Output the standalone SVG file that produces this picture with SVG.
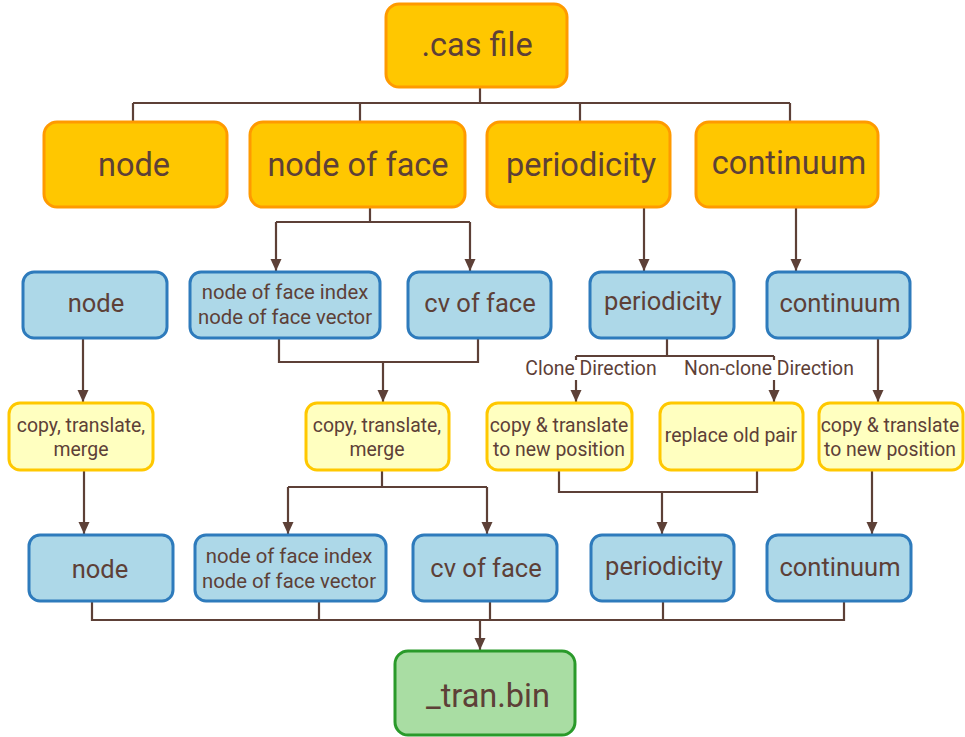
<svg xmlns="http://www.w3.org/2000/svg" width="965" height="737" viewBox="0 0 965 737">
<style>
.o{fill:#FFC700;stroke:#FF9A00;stroke-width:3}
.b{fill:#ADD8E8;stroke:#2E7BBC;stroke-width:3}
.y{fill:#FFFFC0;stroke:#FFC800;stroke-width:3}
.g{fill:#A9DDA3;stroke:#2A9A2A;stroke-width:3}
text{font-family:Roboto,"Liberation Sans",sans-serif;fill:#5D4037;text-anchor:middle}
.t1{font-size:32.5px}
.t2{font-size:25.5px}
.t3{font-size:20.3px}
.t4{font-size:19.4px}
.c path{fill:none;stroke:#5D4037;stroke-width:2.2}
</style>
<defs>
<marker id="ar" markerUnits="userSpaceOnUse" markerWidth="14" markerHeight="14" viewBox="0 0 14 14" refX="12" refY="7" orient="auto">
<path d="M0,1.5 L12,7 L0,12.5 Z" fill="#5D4037"/>
</marker>
</defs>
<g class="c" id="connectors">
<path d="M480,87 V103 M133,103 H790 M133,103 V121 M360,103 V121 M580,103 V121 M790,103 V121"/>
<path d="M370,208 V222 M276,222 H470"/>
<path d="M276,222 V271" marker-end="url(#ar)"/>
<path d="M470,222 V271" marker-end="url(#ar)"/>
<path d="M644,208 V271" marker-end="url(#ar)"/>
<path d="M796,208 V271" marker-end="url(#ar)"/>
<path d="M83,339 V402" marker-end="url(#ar)"/>
<path d="M279,339 V362 H478 V339 M383,362 V402" marker-end="url(#ar)"/>
<path d="M667,339 V356 M576,356 H774"/>
<path d="M576,356 V402" marker-end="url(#ar)"/>
<path d="M774,356 V402" marker-end="url(#ar)"/>
<path d="M878,339 V402" marker-end="url(#ar)"/>
<path d="M84,471 V534" marker-end="url(#ar)"/>
<path d="M382,471 V487 M288,487 H487"/>
<path d="M288,487 V534" marker-end="url(#ar)"/>
<path d="M487,487 V534" marker-end="url(#ar)"/>
<path d="M559,471 V492 H757 V471 M662,492 V534" marker-end="url(#ar)"/>
<path d="M872,471 V534" marker-end="url(#ar)"/>
<path d="M92,602 V620 H844 V602 M319,602 V620 M490,602 V620 M663,602 V620"/>
<path d="M480,620 V650" marker-end="url(#ar)"/>
</g>
<g id="label-clone">
<rect x="523" y="360" width="136" height="20" fill="#fff"/>
<text class="t4" x="591" y="375">Clone Direction</text>
</g>
<g id="label-nonclone">
<rect x="682" y="360" width="175" height="20" fill="#fff"/>
<text class="t4" x="769" y="375">Non-clone Direction</text>
</g>
<g id="cas"><rect class="o" x="386" y="4" width="181" height="83" rx="13"/><text class="t1" x="477" y="56">.cas file</text></g>
<g id="node1"><rect class="o" x="44" y="122" width="183" height="85" rx="13"/><text class="t1" x="134" y="176">node</text></g>
<g id="nof1"><rect class="o" x="250" y="122" width="215" height="85" rx="13"/><text class="t1" x="358" y="176">node of face</text></g>
<g id="per1"><rect class="o" x="487" y="122" width="183" height="85" rx="13"/><text class="t1" x="581" y="176">periodicity</text></g>
<g id="con1"><rect class="o" x="696" y="122" width="182" height="85" rx="13"/><text class="t1" x="789" y="174">continuum</text></g>
<g id="node2"><rect class="b" x="23" y="272" width="144" height="66" rx="11"/><text class="t2" x="96" y="312">node</text></g>
<g id="nof2"><rect class="b" x="190" y="272" width="190" height="66" rx="11"/><text class="t3" x="285" y="299">node of face index</text><text class="t3" x="285" y="324">node of face vector</text></g>
<g id="cv2"><rect class="b" x="408" y="272" width="143" height="66" rx="11"/><text class="t2" x="480" y="312">cv of face</text></g>
<g id="per2"><rect class="b" x="590" y="272" width="144" height="66" rx="11"/><text class="t2" x="663" y="310">periodicity</text></g>
<g id="con2"><rect class="b" x="767" y="272" width="143" height="66" rx="11"/><text class="t2" x="840" y="312">continuum</text></g>
<g id="ctm1"><rect class="y" x="9" y="403" width="144" height="67" rx="11"/><text class="t4" x="81" y="432">copy, translate,</text><text class="t4" x="81" y="456">merge</text></g>
<g id="ctm2"><rect class="y" x="306" y="403" width="143" height="67" rx="11"/><text class="t4" x="377" y="432">copy, translate,</text><text class="t4" x="377" y="456">merge</text></g>
<g id="ctp1"><rect class="y" x="487" y="403" width="145" height="67" rx="11"/><text class="t4" x="559" y="432">copy &amp; translate</text><text class="t4" x="559" y="456">to new position</text></g>
<g id="rop"><rect class="y" x="660" y="403" width="143" height="67" rx="11"/><text class="t4" x="731" y="442">replace old pair</text></g>
<g id="ctp2"><rect class="y" x="819" y="403" width="144" height="67" rx="11"/><text class="t4" x="890" y="432">copy &amp; translate</text><text class="t4" x="890" y="456">to new position</text></g>
<g id="node4"><rect class="b" x="29" y="535" width="144" height="66" rx="11"/><text class="t2" x="100" y="578">node</text></g>
<g id="nof4"><rect class="b" x="195" y="535" width="191" height="66" rx="11"/><text class="t3" x="289" y="563">node of face index</text><text class="t3" x="289" y="588">node of face vector</text></g>
<g id="cv4"><rect class="b" x="413" y="535" width="144" height="66" rx="11"/><text class="t2" x="486" y="577">cv of face</text></g>
<g id="per4"><rect class="b" x="591" y="535" width="143" height="66" rx="11"/><text class="t2" x="664" y="575">periodicity</text></g>
<g id="con4"><rect class="b" x="767" y="535" width="144" height="66" rx="11"/><text class="t2" x="840" y="576">continuum</text></g>
<g id="tran"><rect class="g" x="395" y="651" width="180" height="84" rx="13"/><text class="t1" x="488" y="707">_tran.bin</text></g>
</svg>
